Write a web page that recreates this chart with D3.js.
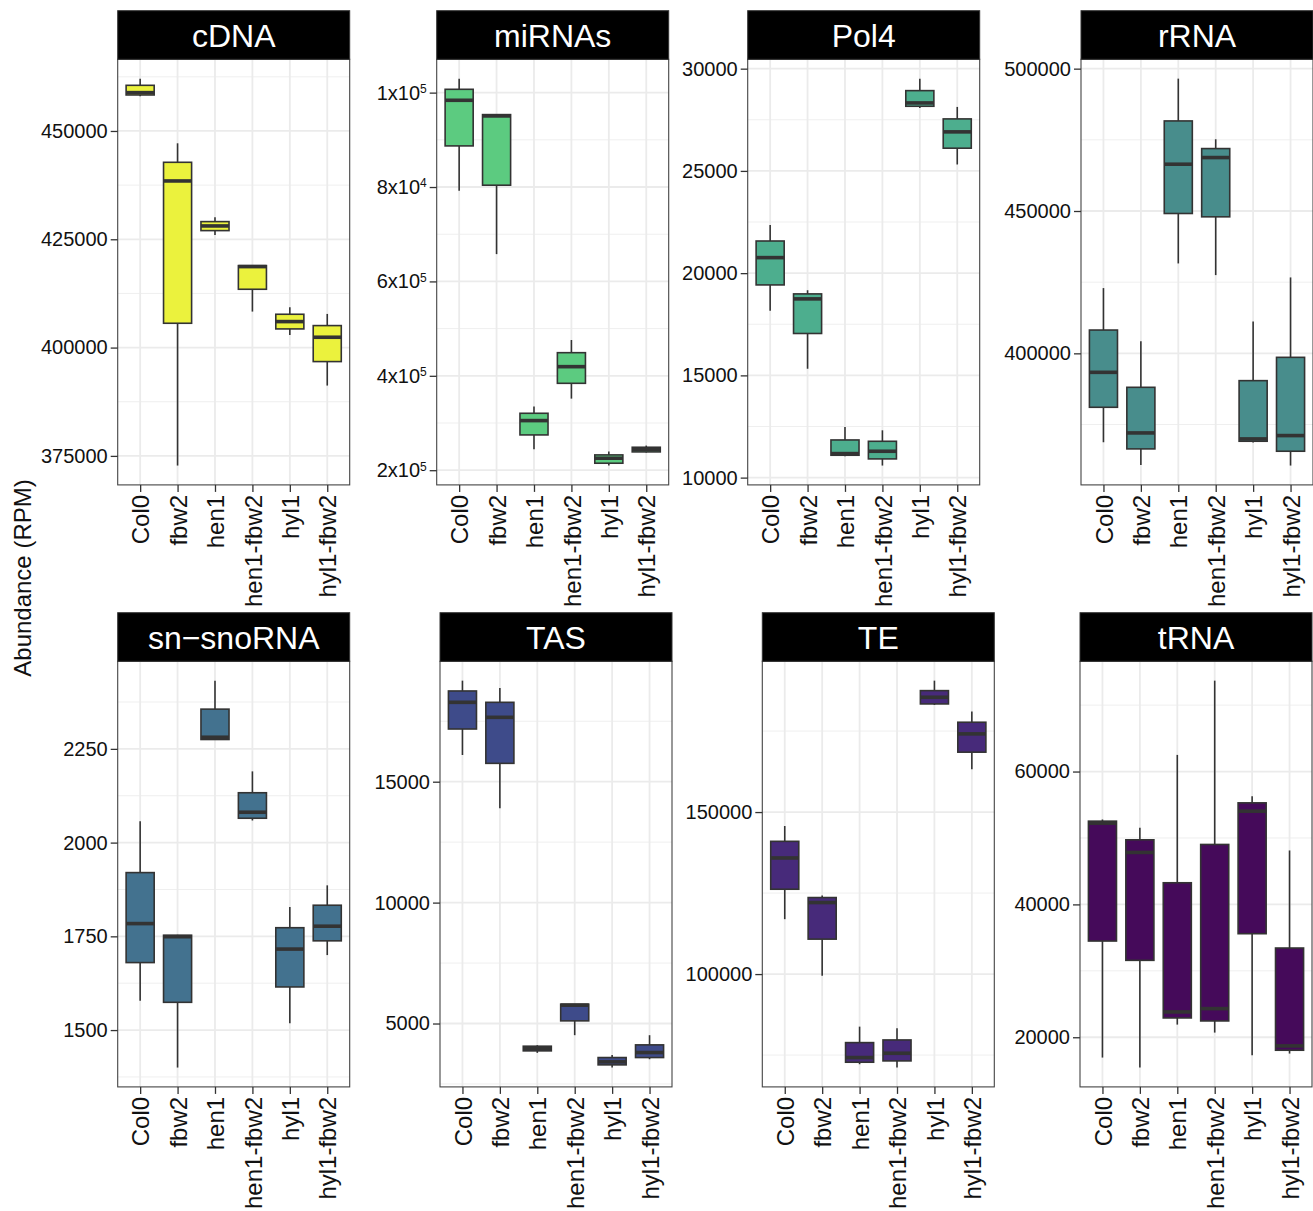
<!DOCTYPE html>
<html>
<head>
<meta charset="utf-8">
<script src="https://cdn.jsdelivr.net/npm/d3@7"></script>
<style>
  body { margin: 0; background: #fff; }
  text { font-family: "Liberation Sans", Arial, Helvetica, sans-serif; }
</style>
</head>
<body>
<svg id="chart" width="1313" height="1211"></svg>
<script>
// genotypes on the x axis (same in every panel)
const groups = ['Col0', 'fbw2', 'hen1', 'hen1-fbw2', 'hyl1', 'hyl1-fbw2'];
const panelNames = ['cDNA', 'miRNAs', 'Pol4', 'rRNA', 'sn\u2212snoRNA', 'TAS', 'TE', 'tRNA'];
const panelColors = ['#ebf23d', '#5ccb80', '#4dae8e', '#488d8c', '#43728f', '#3e4b8a', '#472a7a', '#450a5a'];

// box stats per genotype: [lower whisker, Q1, median, Q3, upper whisker]
const cdnaStats = [
  [458000, 458308, 458846, 460538, 462077],
  [372770, 405615, 438462, 442769, 447154],
  [426000, 427000, 428077, 429077, 430077],
  [408308, 413462, 418692, 418923, 418923],
  [402923, 404308, 406000, 407692, 409308],
  [391231, 396769, 402385, 405077, 407769]
];
const mirnaStats = [
  [79188, 88712, 98377, 100705, 102963],
  [65783, 80388, 95062, 95344, 95400],
  [24443, 27476, 30510, 32062, 33473],
  [35165, 38411, 41938, 44901, 47582],
  [20985, 21479, 22537, 23242, 23948],
  [23736, 23877, 24443, 24864, 25217]
];
const pol4Stats = [
  [18155, 19424, 20759, 21572, 22353],
  [15324, 17049, 18741, 18985, 19164],
  [11045, 11094, 11175, 11842, 12477],
  [10590, 10915, 11289, 11777, 12314],
  [28080, 28161, 28324, 28926, 29512],
  [25314, 26111, 26909, 27543, 28129]
];
const rrnaStats = [
  [368772, 381053, 393333, 408187, 422924],
  [360819, 366433, 372047, 388070, 404211],
  [431579, 449123, 466433, 481637, 496491],
  [427485, 447953, 468772, 471930, 475205],
  [368655, 369123, 369942, 390409, 411228],
  [360585, 365614, 371111, 398596, 426667]
];
const snoStats = [
  [1578, 1680, 1784, 1920, 2057],
  [1400, 1574, 1749, 1753, 1754],
  [2274, 2275, 2281, 2356, 2432],
  [2059, 2065, 2081, 2133, 2190],
  [1518, 1615, 1716, 1773, 1828],
  [1700, 1738, 1777, 1833, 1886]
];
const tasStats = [
  [16103, 17179, 18283, 18752, 19179],
  [13897, 15759, 17662, 18283, 18876],
  [3786, 3869, 3966, 4062, 4103],
  [4517, 5110, 5759, 5800, 5800],
  [3179, 3290, 3414, 3593, 3703],
  [3524, 3593, 3800, 4117, 4517]
];
const teStats = [
  [116940, 126181, 135832, 140965, 145688],
  [99487, 110780, 122074, 123614, 124230],
  [72177, 72793, 74230, 78850, 83778],
  [71150, 73203, 75564, 79671, 83265],
  [183059, 183367, 185421, 187474, 190554],
  [163244, 168480, 174127, 177720, 181006]
];
const trnaStats = [
  [16943, 34486, 52231, 52531, 52782],
  [15439, 31579, 47820, 49724, 51529],
  [21905, 22907, 23810, 43258, 62506],
  [20702, 22456, 24311, 49023, 73684],
  [17293, 35589, 54035, 55288, 56291],
  [17544, 18045, 18697, 33434, 48120]
];

// y ticks per panel
const cdnaTicks = [375000, 400000, 425000, 450000];
const mirnaTicks = [20000, 40000, 60000, 80000, 100000];
const mirnaTickLabels = [['2x10', '5'], ['4x10', '5'], ['6x10', '5'], ['8x10', '4'], ['1x10', '5']];
const pol4Ticks = [10000, 15000, 20000, 25000, 30000];
const rrnaTicks = [400000, 450000, 500000];
const snoTicks = [1500, 1750, 2000, 2250];
const tasTicks = [5000, 10000, 15000];
const teTicks = [100000, 150000];
const trnaTicks = [20000, 40000, 60000];

const allStats = [cdnaStats, mirnaStats, pol4Stats, rrnaStats, snoStats, tasStats, teStats, trnaStats];
const allTicks = [cdnaTicks, mirnaTicks, pol4Ticks, rrnaTicks, snoTicks, tasTicks, teTicks, trnaTicks];

const svg = d3.select('#chart');
svg.append('rect').attr('width', 1313).attr('height', 1211).attr('fill', '#fff');

// facet layout (free scales -> panel lefts differ a little)
const panelW = 232;
const stripH = 48.6;
const plotH = 425.6;
const rowTops = [10.7, 612.7];
const lefts = [[117.7, 436.7, 747.7, 1081], [117.7, 440, 762.3, 1080]];

function drawPanel(k) {
  const row = Math.floor(k / 4), col = k % 4;
  const left = lefts[row][col];
  const top = rowTops[row];
  const stats = allStats[k];
  const ticks = allTicks[k];

  const lo = d3.min(stats, d => d[0]);
  const hi = d3.max(stats, d => d[4]);
  const pad = (hi - lo) * 0.05;

  const scX = d3.scalePoint().domain(groups).range([0, panelW]).padding(0.6);
  const scY = d3.scaleLinear().domain([lo - pad, hi + pad]).range([plotH, 0]);

  const g = svg.append('g').attr('transform', `translate(${left}, ${top + stripH})`);

  // strip
  svg.append('rect')
    .attr('x', left).attr('y', top)
    .attr('width', panelW).attr('height', stripH)
    .attr('fill', '#000').attr('stroke', '#333').attr('stroke-width', 1);
  svg.append('text')
    .attr('x', left + panelW / 2).attr('y', top + stripH / 2)
    .attr('dy', '0.36em')
    .attr('text-anchor', 'middle')
    .attr('font-size', 32)
    .attr('fill', '#fff')
    .text(panelNames[k]);

  // panel bg + grid
  g.append('rect').attr('width', panelW).attr('height', plotH).attr('fill', '#fff');

  const step = ticks[1] - ticks[0];
  const minor = [ticks[0] - step / 2, ...ticks.map(t => t + step / 2)]
    .filter(v => v > scY.domain()[0] && v < scY.domain()[1]);
  g.selectAll('.minor').data(minor).enter().append('line')
    .attr('x1', 0).attr('x2', panelW)
    .attr('y1', d => scY(d)).attr('y2', d => scY(d))
    .attr('stroke', '#efefef').attr('stroke-width', 1);
  g.selectAll('.major-y').data(ticks).enter().append('line')
    .attr('x1', 0).attr('x2', panelW)
    .attr('y1', d => scY(d)).attr('y2', d => scY(d))
    .attr('stroke', '#ebebeb').attr('stroke-width', 1.8);
  g.selectAll('.major-x').data(groups).enter().append('line')
    .attr('x1', d => scX(d)).attr('x2', d => scX(d))
    .attr('y1', 0).attr('y2', plotH)
    .attr('stroke', '#ebebeb').attr('stroke-width', 1.8);

  // boxes
  const boxW = scX.step() * 0.75;
  const boxes = g.selectAll('.box').data(stats).enter().append('g');
  const cx = (d, i) => scX(groups[i]);

  boxes.append('line')
    .attr('x1', cx).attr('x2', cx)
    .attr('y1', d => scY(d[4])).attr('y2', d => scY(d[3]))
    .attr('stroke', '#333').attr('stroke-width', 1.6);
  boxes.append('line')
    .attr('x1', cx).attr('x2', cx)
    .attr('y1', d => scY(d[1])).attr('y2', d => scY(d[0]))
    .attr('stroke', '#333').attr('stroke-width', 1.6);
  boxes.append('rect')
    .attr('x', (d, i) => cx(d, i) - boxW / 2)
    .attr('y', d => scY(d[3]))
    .attr('width', boxW)
    .attr('height', d => scY(d[1]) - scY(d[3]))
    .attr('fill', panelColors[k])
    .attr('stroke', '#333').attr('stroke-width', 1.6);
  boxes.append('line')
    .attr('x1', (d, i) => cx(d, i) - boxW / 2)
    .attr('x2', (d, i) => cx(d, i) + boxW / 2)
    .attr('y1', d => scY(d[2])).attr('y2', d => scY(d[2]))
    .attr('stroke', '#333').attr('stroke-width', 3.6);

  // border
  g.append('rect').attr('width', panelW).attr('height', plotH)
    .attr('fill', 'none').attr('stroke', '#444').attr('stroke-width', 1.1);

  // y axis
  const yAxis = g.append('g')
    .call(d3.axisLeft(scY).tickValues(ticks).tickSize(7).tickPadding(3).tickFormat(d3.format('d')));
  yAxis.select('.domain').remove();
  yAxis.selectAll('line').attr('stroke', '#333').attr('stroke-width', 1.3);
  yAxis.selectAll('text')
    .attr('font-size', 20)
    .attr('font-family', '"Liberation Sans", Arial, sans-serif')
    .attr('fill', '#111');

  if (k === 1) {
    yAxis.selectAll('text').each(function(d) {
      const lab = mirnaTickLabels[mirnaTicks.indexOf(d)];
      const t = d3.select(this);
      t.text(lab[0]);
      t.append('tspan').attr('dy', '-0.55em').attr('font-size', 12).text(lab[1]);
    });
  }

  // x axis
  const xAxis = g.append('g')
    .attr('transform', `translate(0, ${plotH})`)
    .call(d3.axisBottom(scX).tickSize(7).tickPadding(3));
  xAxis.select('.domain').remove();
  xAxis.selectAll('line').attr('stroke', '#333').attr('stroke-width', 1.3);
  xAxis.selectAll('text')
    .attr('font-size', 24)
    .attr('font-family', '"Liberation Sans", Arial, sans-serif')
    .attr('fill', '#111')
    .attr('text-anchor', 'end')
    .attr('x', -10)
    .attr('y', 0)
    .attr('dy', '0.36em')
    .attr('transform', 'rotate(-90)');
}

for (let k = 0; k < 8; k++) drawPanel(k);

// shared y title
svg.append('text')
  .attr('transform', 'translate(22, 578) rotate(-90)')
  .attr('dy', '0.36em')
  .attr('text-anchor', 'middle')
  .attr('font-size', 24)
  .attr('fill', '#111')
  .text('Abundance (RPM)');
</script>
</body>
</html>
